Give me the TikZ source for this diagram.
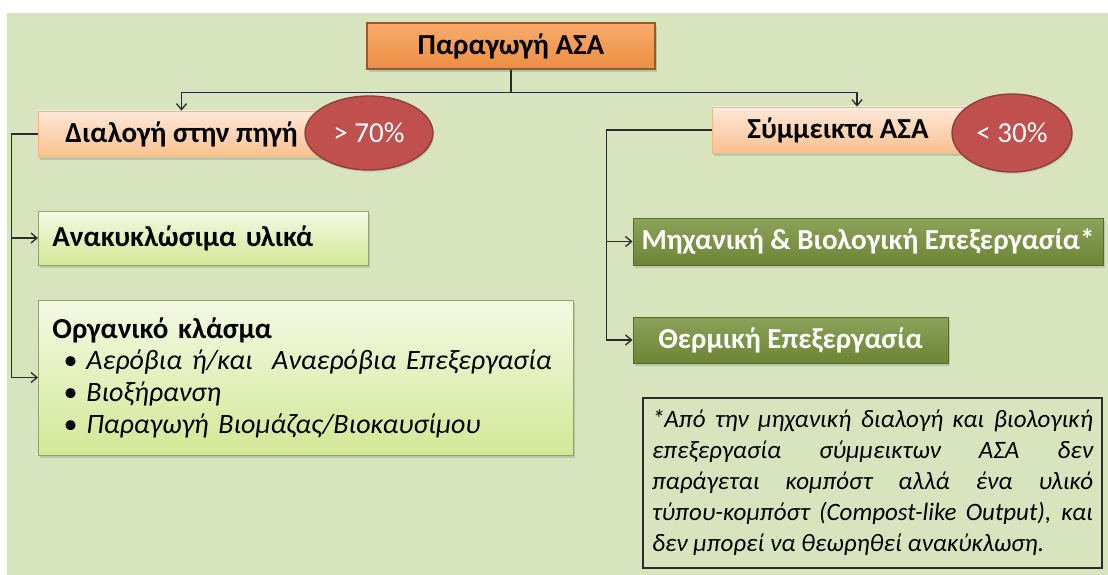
\documentclass[tikz,border=0pt]{standalone}
\usepackage{fontspec}
\setmainfont{Carlito}
\usepackage{tikz}
\usetikzlibrary{positioning,arrows.meta,shapes.geometric,shadows}
\definecolor{swbg}{HTML}{D7E4BD}
\definecolor{swink}{HTML}{2B2B2B}
\definecolor{swor}{HTML}{F79646}
\definecolor{swordark}{HTML}{9A5A22}
\definecolor{swpale}{HTML}{FAC090}
\definecolor{swred}{HTML}{C0504D}
\definecolor{swreddark}{HTML}{8E3B39}
\definecolor{swlime}{HTML}{D3E896}
\definecolor{swolive}{HTML}{77933C}
\definecolor{swolivedark}{HTML}{566C28}
\tikzset{
  sw/.style={align=center, inner sep=3pt, font=\fontsize{29}{33}\selectfont\bfseries,
             drop shadow={shadow xshift=2pt, shadow yshift=-3pt, opacity=0.3}},
  sw head/.style={sw, draw=swordark, line width=1.2pt, top color=swor!80!white, bottom color=swor!95!black},
  sw src/.style={sw, draw=swor!70!white, line width=0.8pt, top color=swpale!35!white, bottom color=swpale},
  sw lite/.style={sw, draw=swlime!70!black, line width=0.8pt, top color=swlime!25!white, bottom color=swlime,
                  align=left, inner xsep=14pt},
  sw dark/.style={sw, draw=swolivedark, line width=1pt, top color=swolive!85!white, bottom color=swolive!90!black, text=white},
  sw pct/.style={ellipse, inner sep=0pt, fill=swred, draw=swreddark, line width=1.3pt, text=white,
                 font=\fontsize{29}{33}\selectfont, drop shadow={shadow xshift=1pt, shadow yshift=-2pt, opacity=0.2}},
  sw note/.style={draw=swink, line width=1.4pt, inner sep=0pt, align=left,
                  font=\fontsize{25}{31}\selectfont\itshape},
  sw arr/.style={-{Straight Barb[length=6pt,width=10pt]}, line width=1.3pt, swink},
}
\newcommand{\switem}[1]{{\fontsize{28}{32}\selectfont\mdseries\itshape\hspace*{11pt}\textbullet\hspace{9pt}#1}}

\begin{document}
\begin{tikzpicture}[x=1pt, y=-1pt]
  \useasboundingbox (0,0) rectangle (1108,575);
  \fill[swbg] (7,13) rectangle (1108,575);
  % top level
  \node[sw head, minimum width=288, minimum height=46] (title) at (511,46) {Παραγωγή ΑΣΑ};
  \node[sw src, minimum width=287, minimum height=46] (src) at (181.5,134) {Διαλογή στην πηγή};
  \node[sw src, minimum width=252, minimum height=46] (mix) at (838,130) {Σύμμεικτα ΑΣΑ};
  \node[sw pct, minimum width=128, minimum height=74] (p70) at (369,133) {> 70\%};
  \node[sw pct, minimum width=120, minimum height=78] (p30) at (1012,133) {< 30\%};
  \draw[sw arr] (title.south) -- ++(0,23) -| (src.north);
  \draw[sw arr] (title.south) -- ++(0,23) -| ([xshift=19pt]mix.north);
  % source separation branch
  \node[sw lite, anchor=west, text width=302, minimum height=54] (recyc) at (38,238) {Ανακυκλώσιμα υλικά};
  \node[sw lite, anchor=west, text width=507, minimum height=155] (org) at (38,377.5)
    {Οργανικό κλάσμα\\[-2pt]
     \switem{Αερόβια ή/και\ \ Αναερόβια Επεξεργασία}\\[-1pt]
     \switem{Βιοξήρανση}\\[-1pt]
     \switem{Παραγωγή Βιομάζας/Βιοκαυσίμου}};
  \draw[sw arr] (src.west) -- ++(-26,0) |- (recyc.west);
  \draw[sw arr] (src.west) -- ++(-26,0) |- (org.west);
  % mixed waste branch
  \node[sw dark, minimum width=470, minimum height=47] (mbt) at (868,241.5) {Μηχανική \& Βιολογική Επεξεργασία*};
  \node[sw dark, minimum width=315, minimum height=46] (therm) at (790.5,340) {Θερμική Επεξεργασία};
  \draw[sw arr] (mix.west) -- ++(-105,0) |- (mbt.west);
  \draw[sw arr] (mix.west) -- ++(-105,0) |- (therm.west);
  % footnote
  \node[sw note, minimum width=459, minimum height=170] (note) at (872.5,483)
    {\makebox[441pt][s]{*Από την μηχανική διαλογή και βιολογική}\\
     \makebox[441pt][s]{επεξεργασία σύμμεικτων ΑΣΑ δεν}\\
     \makebox[441pt][s]{παράγεται κομπόστ αλλά ένα υλικό}\\
     \makebox[441pt][s]{τύπου-κομπόστ (Compost-like Output), και}\\
     \makebox[441pt][l]{δεν μπορεί να θεωρηθεί ανακύκλωση.}};
\end{tikzpicture}
\end{document}
